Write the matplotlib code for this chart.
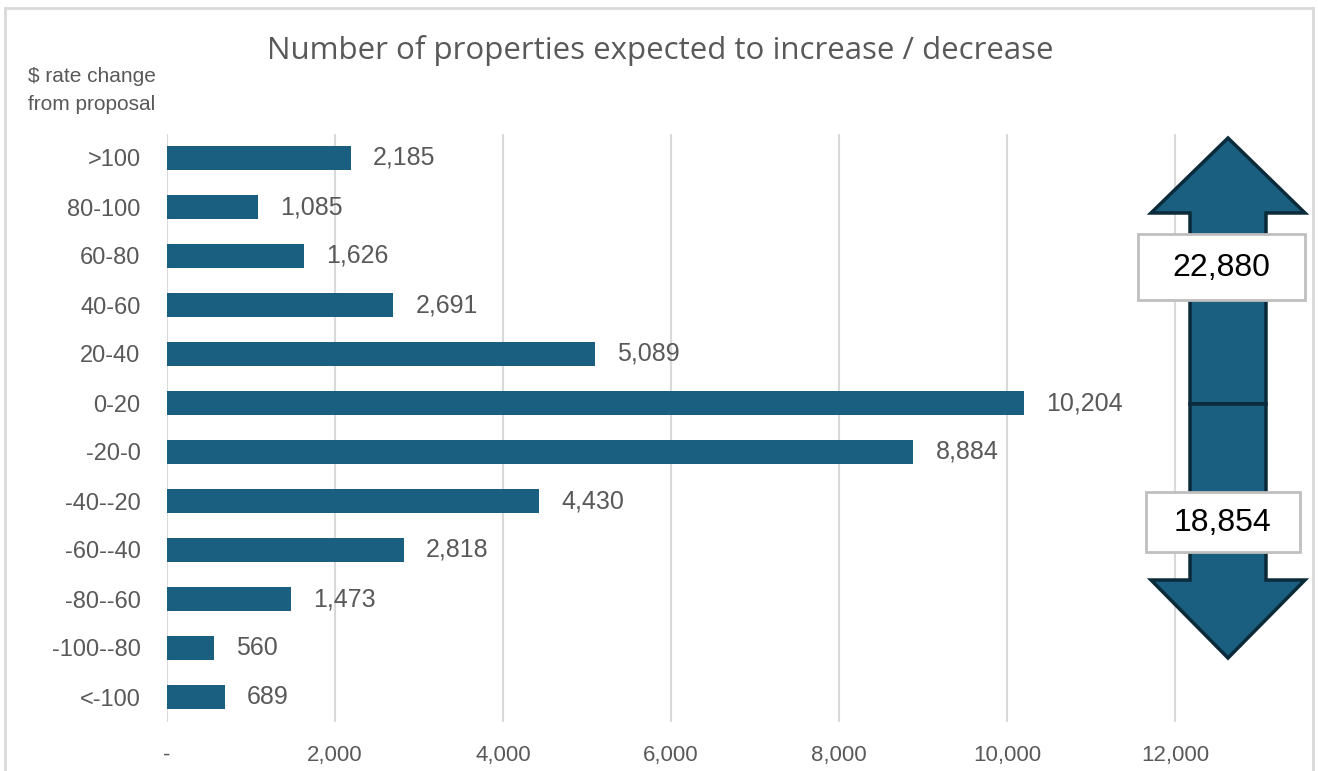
import matplotlib.pyplot as plt
from matplotlib.patches import Polygon, Rectangle
from matplotlib.ticker import FuncFormatter
# ------------------------------ #

categories = ['>100', '80-100', '60-80', '40-60', '20-40', '0-20',
              '-20-0', '-40--20', '-60--40', '-80--60', '-100--80', '<-100']
counts = [2185, 1085, 1626, 2691, 5089, 10204,
          8884, 4430, 2818, 1473, 560, 689]
xTicks = [0, 2000, 4000, 6000, 8000, 10000, 12000]
# ------------------------------ #

barColor = '#1a5e80'
edgeDark = '#0b2a3a'
greyText = '#595959'
gridColor = '#d9d9d9'

narrow = ['Liberation Sans', 'DejaVu Sans']
titleFont = ['Open Sans', 'DejaVu Sans']

fig = plt.figure(figsize=(13.18, 7.71), dpi=100)
W, H = 1318, 771

def fx(px):
	return px / W

def fy(py):
	return 1 - py / H

ax = fig.add_axes([fx(167), fy(721.5), fx(1312) - fx(167), fy(133.5) - fy(721.5)])

pos = list(range(len(categories)))
ax.barh(pos, counts, height=0.5, color=barColor, zorder=3)
ax.set_ylim(len(categories) - 0.5, -0.5)
ax.set_xlim(0, 13630)
ax.set_yticks(pos)
ax.set_yticklabels(categories, family=narrow, fontsize=17, color=greyText)
ax.set_xticks(xTicks)
ax.xaxis.set_major_formatter(FuncFormatter(lambda v, _: '-' if v == 0 else f'{int(v):,}'))
for lbl in ax.get_xticklabels():
	lbl.set_family(narrow)
	lbl.set_fontsize(16)
	lbl.set_color(greyText)
ax.tick_params(axis='both', length=0)
ax.tick_params(axis='y', pad=19)
ax.tick_params(axis='x', pad=17)
ax.grid(axis='x', color=gridColor, linewidth=1.5, zorder=0)
for s in ax.spines.values():
	s.set_visible(False)

for p, c in zip(pos, counts):
	ax.annotate(f'{c:,}', xy=(c, p), xytext=(16, 0), textcoords='offset points',
				ha='left', va='center', family=narrow, fontsize=18, color=greyText)

fig.text(fx(660), fy(51), 'Number of properties expected to increase / decrease',
		 ha='center', va='center', family=titleFont, fontsize=22.5, color=greyText)
fig.text(fx(92), fy(90), '$ rate change\nfrom proposal', ha='center', va='center',
		 family=narrow, fontsize=15, color=greyText, linespacing=1.6)

# overlay in pixel coordinates for the arrow shape and frame
ov = fig.add_axes([0, 0, 1, 1], zorder=5)
ov.set_xlim(0, W)
ov.set_ylim(H, 0)
ov.axis('off')

frame = dict(color=gridColor, linewidth=2)
ov.plot([5, 5], [8, H + 5], **frame)
ov.plot([5, 1313], [8, 8], **frame)
ov.plot([1313, 1313], [8, H + 5], **frame)

cx, shaftHalf, headHalf = 1228, 38, 77
upArrow = [(cx, 138), (cx + headHalf, 213), (cx + shaftHalf, 213), (cx + shaftHalf, 404),
		   (cx - shaftHalf, 404), (cx - shaftHalf, 213), (cx - headHalf, 213)]
downArrow = [(cx, 658), (cx + headHalf, 580), (cx + shaftHalf, 580), (cx + shaftHalf, 404),
			 (cx - shaftHalf, 404), (cx - shaftHalf, 580), (cx - headHalf, 580)]
for shape in (upArrow, downArrow):
	ov.add_patch(Polygon(shape, closed=True, facecolor=barColor, edgecolor=edgeDark,
						 linewidth=2.5, joinstyle='miter'))

totalUp = sum(c for cat, c in zip(categories, counts) if not cat.startswith(('-', '<')))
totalDown = sum(c for cat, c in zip(categories, counts) if cat.startswith(('-', '<')))

for (x0, y0, x1, y1), total in [((1138, 234, 1305, 300), totalUp), ((1146, 492, 1300, 552), totalDown)]:
	ov.add_patch(Rectangle((x0, y0), x1 - x0, y1 - y0, facecolor='white',
						   edgecolor='#bfbfbf', linewidth=2))
	ov.text((x0 + x1) / 2, (y0 + y1) / 2 + 1, f'{total:,}', ha='center', va='center',
			family=['Liberation Sans', 'DejaVu Sans'], fontsize=23, color='black')

plt.savefig('out.png', dpi=100)
